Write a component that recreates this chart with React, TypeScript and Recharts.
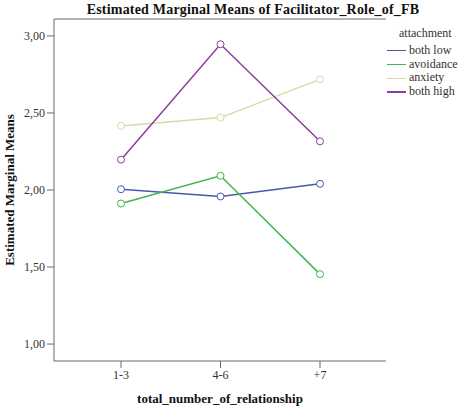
import React from 'react';
import { LineChart, Line, XAxis, YAxis, Label, ReferenceLine } from 'recharts';

const groups = ['1-3', '4-6', '+7'];
const bothLow = [2.005, 1.958, 2.04];
const avoidance = [1.912, 2.092, 1.454];
const anxiety = [2.416, 2.47, 2.718];
const bothHigh = [2.197, 2.946, 2.316];
const yTicks = [1, 1.5, 2, 2.5, 3];
const yDomain: [number, number] = [0.89, 3.11];

const series = [
  { key: 'bothLow', name: 'both low', color: '#4a58ad', values: bothLow },
  { key: 'avoidance', name: 'avoidance', color: '#3fb54b', values: avoidance },
  { key: 'anxiety', name: 'anxiety', color: '#d9d9a6', values: anxiety },
  { key: 'bothHigh', name: 'both high', color: '#8c3d9b', values: bothHigh },
];

const data = groups.map((group, i) => {
  const row: Record<string, string | number> = { group };
  series.forEach((s) => {
    row[s.key] = s.values[i];
  });
  return row;
});

const FONT = '"Liberation Serif", "Times New Roman", serif';
const FRAME = '#6b6b6b';
const TEXT = '#333';

const commaDecimal = (v: number) => v.toFixed(2).replace('.', ',');

function YTitle(props: any) {
  const { viewBox } = props;
  const cx = 9;
  const cy = viewBox.y + viewBox.height / 2;
  return (
    <text
      x={cx}
      y={cy}
      transform={`rotate(-90, ${cx}, ${cy})`}
      textAnchor="middle"
      dominantBaseline="central"
      fontFamily={FONT}
      fontWeight="bold"
      fontSize={13}
      fill="#111"
    >
      Estimated Marginal Means
    </text>
  );
}

export default function App() {
  return (
    <div style={{ position: 'absolute', left: 0, top: 0, width: 474, height: 416, background: '#fff', fontFamily: FONT }}>
      <div
        style={{
          position: 'absolute',
          left: 0,
          top: 2,
          width: 506,
          textAlign: 'center',
          whiteSpace: 'nowrap',
          fontWeight: 'bold',
          fontSize: 14,
          letterSpacing: 0.2,
          color: '#111',
          lineHeight: '15px',
        }}
      >
        Estimated Marginal Means of Facilitator_Role_of_FB
      </div>

      <LineChart width={474} height={416} data={data} margin={{ top: 19, right: 88, bottom: 5, left: 0 }}>
        <XAxis
          dataKey="group"
          height={50}
          padding={{ left: 67, right: 66 }}
          stroke={FRAME}
          tickSize={7}
          tick={{ fill: TEXT, fontSize: 12, fontFamily: FONT }}
        >
          <Label
            value="total_number_of_relationship"
            position="insideBottom"
            offset={8}
            style={{ fontFamily: FONT, fontWeight: 'bold', fontSize: 13, fill: '#111' }}
          />
        </XAxis>
        <YAxis
          type="number"
          domain={yDomain}
          ticks={yTicks}
          width={54}
          stroke={FRAME}
          tickSize={7}
          tickFormatter={commaDecimal}
          tick={{ fill: TEXT, fontSize: 12, fontFamily: FONT }}
        >
          <Label content={YTitle} />
        </YAxis>
        <YAxis yAxisId="right" orientation="right" width={0} tick={false} tickLine={false} stroke={FRAME} domain={yDomain} />
        {/* top edge of the plot frame */}
        <ReferenceLine y={yDomain[1]} stroke={FRAME} />
        {series.map((s) => (
          <Line
            key={s.key}
            dataKey={s.key}
            name={s.name}
            stroke={s.color}
            strokeWidth={1.5}
            dot={{ r: 3.5, fill: '#fff', stroke: s.color, strokeWidth: 1 }}
            activeDot={false}
            isAnimationActive={false}
          />
        ))}
      </LineChart>

      <div style={{ position: 'absolute', left: 387, top: 27, fontSize: 12, color: TEXT, lineHeight: '13.8px' }}>
        <div style={{ paddingLeft: 12, marginBottom: 3 }}>attachment</div>
        {series.map((s) => (
          <div key={s.key} style={{ display: 'flex', alignItems: 'center', whiteSpace: 'nowrap' }}>
            <span style={{ display: 'inline-block', width: 19, height: 1.5, background: s.color, marginRight: 3 }} />
            {s.name}
          </div>
        ))}
      </div>
    </div>
  );
}
